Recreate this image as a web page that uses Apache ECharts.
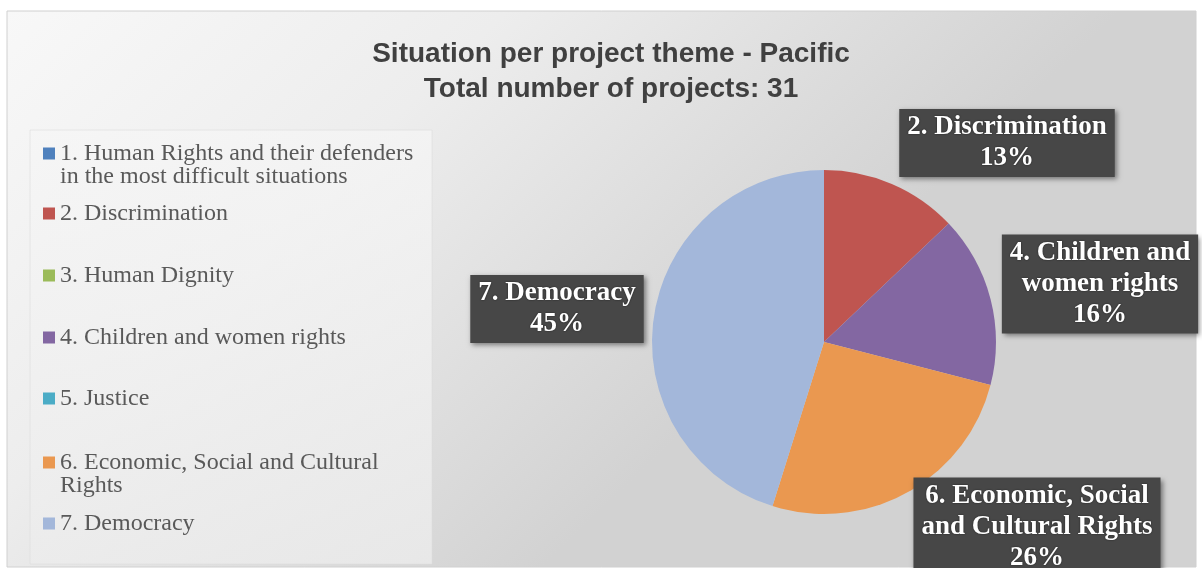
<!DOCTYPE html>
<html>
<head>
<meta charset="utf-8">
<script src="https://cdn.jsdelivr.net/npm/echarts@6/dist/echarts.min.js"></script>
<style>
  html, body { margin: 0; padding: 0; background: #ffffff; }
  #chart { width: 1202px; height: 568px; }
</style>
</head>
<body>
<div id="chart"></div>
<script>
// ---- data ----
const categories = [
  '1. Human Rights and their defenders in the most difficult situations',
  '2. Discrimination',
  '3. Human Dignity',
  '4. Children and women rights',
  '5. Justice',
  '6. Economic, Social and Cultural Rights',
  '7. Democracy'
];
const projectCounts = [0, 4, 0, 5, 0, 8, 14];
const legendLabels = [
  '1. Human Rights and their defenders\nin the most difficult situations',
  '2. Discrimination',
  '3. Human Dignity',
  '4. Children and women rights',
  '5. Justice',
  '6. Economic, Social and Cultural\nRights',
  '7. Democracy'
];
const sliceLabels = [
  '',
  '2. Discrimination',
  '',
  '4. Children and\nwomen rights',
  '',
  '6. Economic, Social\nand Cultural Rights',
  '7. Democracy'
];
const titleLines = ['Situation per project theme - Pacific', 'Total number of projects: '];

// ---- styles / layout ----
const colors = ['#4F81BD', '#BF5550', '#9BBB59', '#8367A2', '#4BACC6', '#EA9850', '#A3B7DA'];
const legendFirstLineY = [153, 213, 275, 337, 398, 462, 523];
const labelCenters = [null, [1007, 143], null, [1100, 284], null, [1037, 527], [557, 309]];

const total = projectCounts.reduce((a, b) => a + b, 0);
const LH = 23;
const SQ = 12;

const legends = categories.map((name, i) => {
  const nLines = legendLabels[i].split('\n').length;
  const extra = (nLines - 1) * LH;
  const itemH = SQ + extra;
  return {
    data: [name],
    orient: 'vertical',
    left: 43,
    top: legendFirstLineY[i] - LH / 2,
    padding: 0,
    itemWidth: SQ,
    itemHeight: itemH,
    icon: extra > 0 ? ('path://M0,0H' + SQ + 'V' + SQ + 'H0Z M0,' + itemH) : 'rect',
    selectedMode: false,
    formatter: () => legendLabels[i],
    textStyle: {
      fontFamily: 'Liberation Serif',
      fontSize: 24,
      lineHeight: LH,
      color: '#595959'
    }
  };
});

const chart = echarts.init(document.getElementById('chart'), null, { renderer: 'canvas' });
chart.setOption({
  animation: false,
  color: colors,
  graphic: [
    {
      type: 'rect', z: -10, silent: true,
      shape: { x: 7, y: 11, width: 1189, height: 556 },
      style: {
        fill: new echarts.graphic.LinearGradient(0, 0, 0.45, 1, [
          { offset: 0, color: '#F8F8F8' },
          { offset: 0.45, color: '#EDEDED' },
          { offset: 1, color: '#D2D2D2' }
        ]),
        stroke: '#D0D0D0', lineWidth: 1
      }
    },
    {
      type: 'rect', z: -9, silent: true,
      shape: { x: 30, y: 130, width: 402, height: 434 },
      style: {
        fill: new echarts.graphic.LinearGradient(0, 0, 0, 1, [
          { offset: 0, color: 'rgba(246,246,246,0.7)' },
          { offset: 1, color: 'rgba(236,236,236,0.8)' }
        ]),
        stroke: 'rgba(220,220,220,0.6)', lineWidth: 1
      }
    }
  ],
  title: {
    text: titleLines[0] + '\n' + titleLines[1] + total,
    left: 611,
    top: 37,
    padding: 0,
    textAlign: 'center',
    textStyle: {
      fontFamily: 'Liberation Sans',
      fontWeight: 'bold',
      fontSize: 28,
      lineHeight: 35,
      color: '#404040'
    }
  },
  legend: legends,
  series: [{
    type: 'pie',
    center: [824, 342],
    radius: 172,
    startAngle: 90,
    clockwise: true,
    avoidLabelOverlap: false,
    itemStyle: { borderWidth: 0 },
    emphasis: { disabled: true },
    labelLine: { show: false },
    label: {
      show: true,
      position: 'outside',
      formatter: (p) => sliceLabels[p.dataIndex] + '\n' + Math.round(p.percent) + '%',
      fontFamily: 'Liberation Serif',
      fontWeight: 'bold',
      fontSize: 27,
      lineHeight: 31,
      color: '#FFFFFF',
      align: 'center',
      backgroundColor: '#474747',
      padding: [3, 8, 3, 8],
      shadowColor: 'rgba(0,0,0,0.45)',
      shadowBlur: 5,
      shadowOffsetX: 2,
      shadowOffsetY: 2,
      textShadowColor: 'rgba(0,0,0,0.6)',
      textShadowBlur: 2
    },
    labelLayout: (params) => {
      const c = labelCenters[params.dataIndex];
      if (!c) return {};
      return { x: c[0], y: c[1], align: 'center', verticalAlign: 'middle' };
    },
    data: categories.map((name, i) => ({
      name: name,
      value: projectCounts[i],
      label: { show: projectCounts[i] > 0 }
    }))
  }]
});
</script>
</body>
</html>
